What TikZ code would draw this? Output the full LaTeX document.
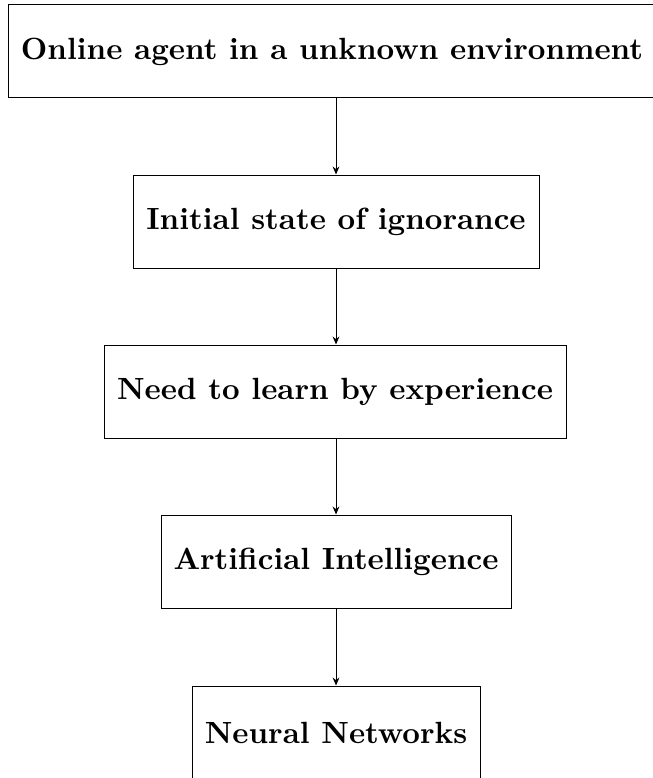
\documentclass[tikz,border=0pt]{standalone}
\usetikzlibrary{arrows.meta}
\begin{document}
\begin{tikzpicture}[x=0.326pt,y=-0.326pt,
  stage/.style={draw, rectangle, font=\bfseries, inner sep=0pt,
    line width=0.32pt, minimum height=93*0.326pt},
  flow/.style={-{Stealth[length=2.6pt,width=2.2pt]}, line width=0.32pt}]
\useasboundingbox (0,0) rectangle (652,778);

% the chain of stages, top to bottom
\node[stage, minimum width=648*0.326pt] (online)  at (332,51.5)  {Online agent in a unknown environment};
\node[stage, minimum width=406*0.326pt] (ignore)  at (336,221.5) {Initial state of ignorance};
\node[stage, minimum width=462*0.326pt] (learn)   at (335,391.5) {Need to learn by experience};
\node[stage, minimum width=350*0.326pt] (ai)      at (336,561.5) {Artificial Intelligence};
\node[stage, minimum width=288*0.326pt] (nn)      at (336,732.5) {Neural Networks};

% connectors between consecutive stages
\draw[flow] (online.south -| ignore.north) -- (ignore.north);
\draw[flow] (ignore.south) -- (learn.north -| ignore.south);
\draw[flow] (learn.south -| ignore.south) -- (ai.north);
\draw[flow] (ai.south) -- (nn.north);
\end{tikzpicture}
\end{document}
